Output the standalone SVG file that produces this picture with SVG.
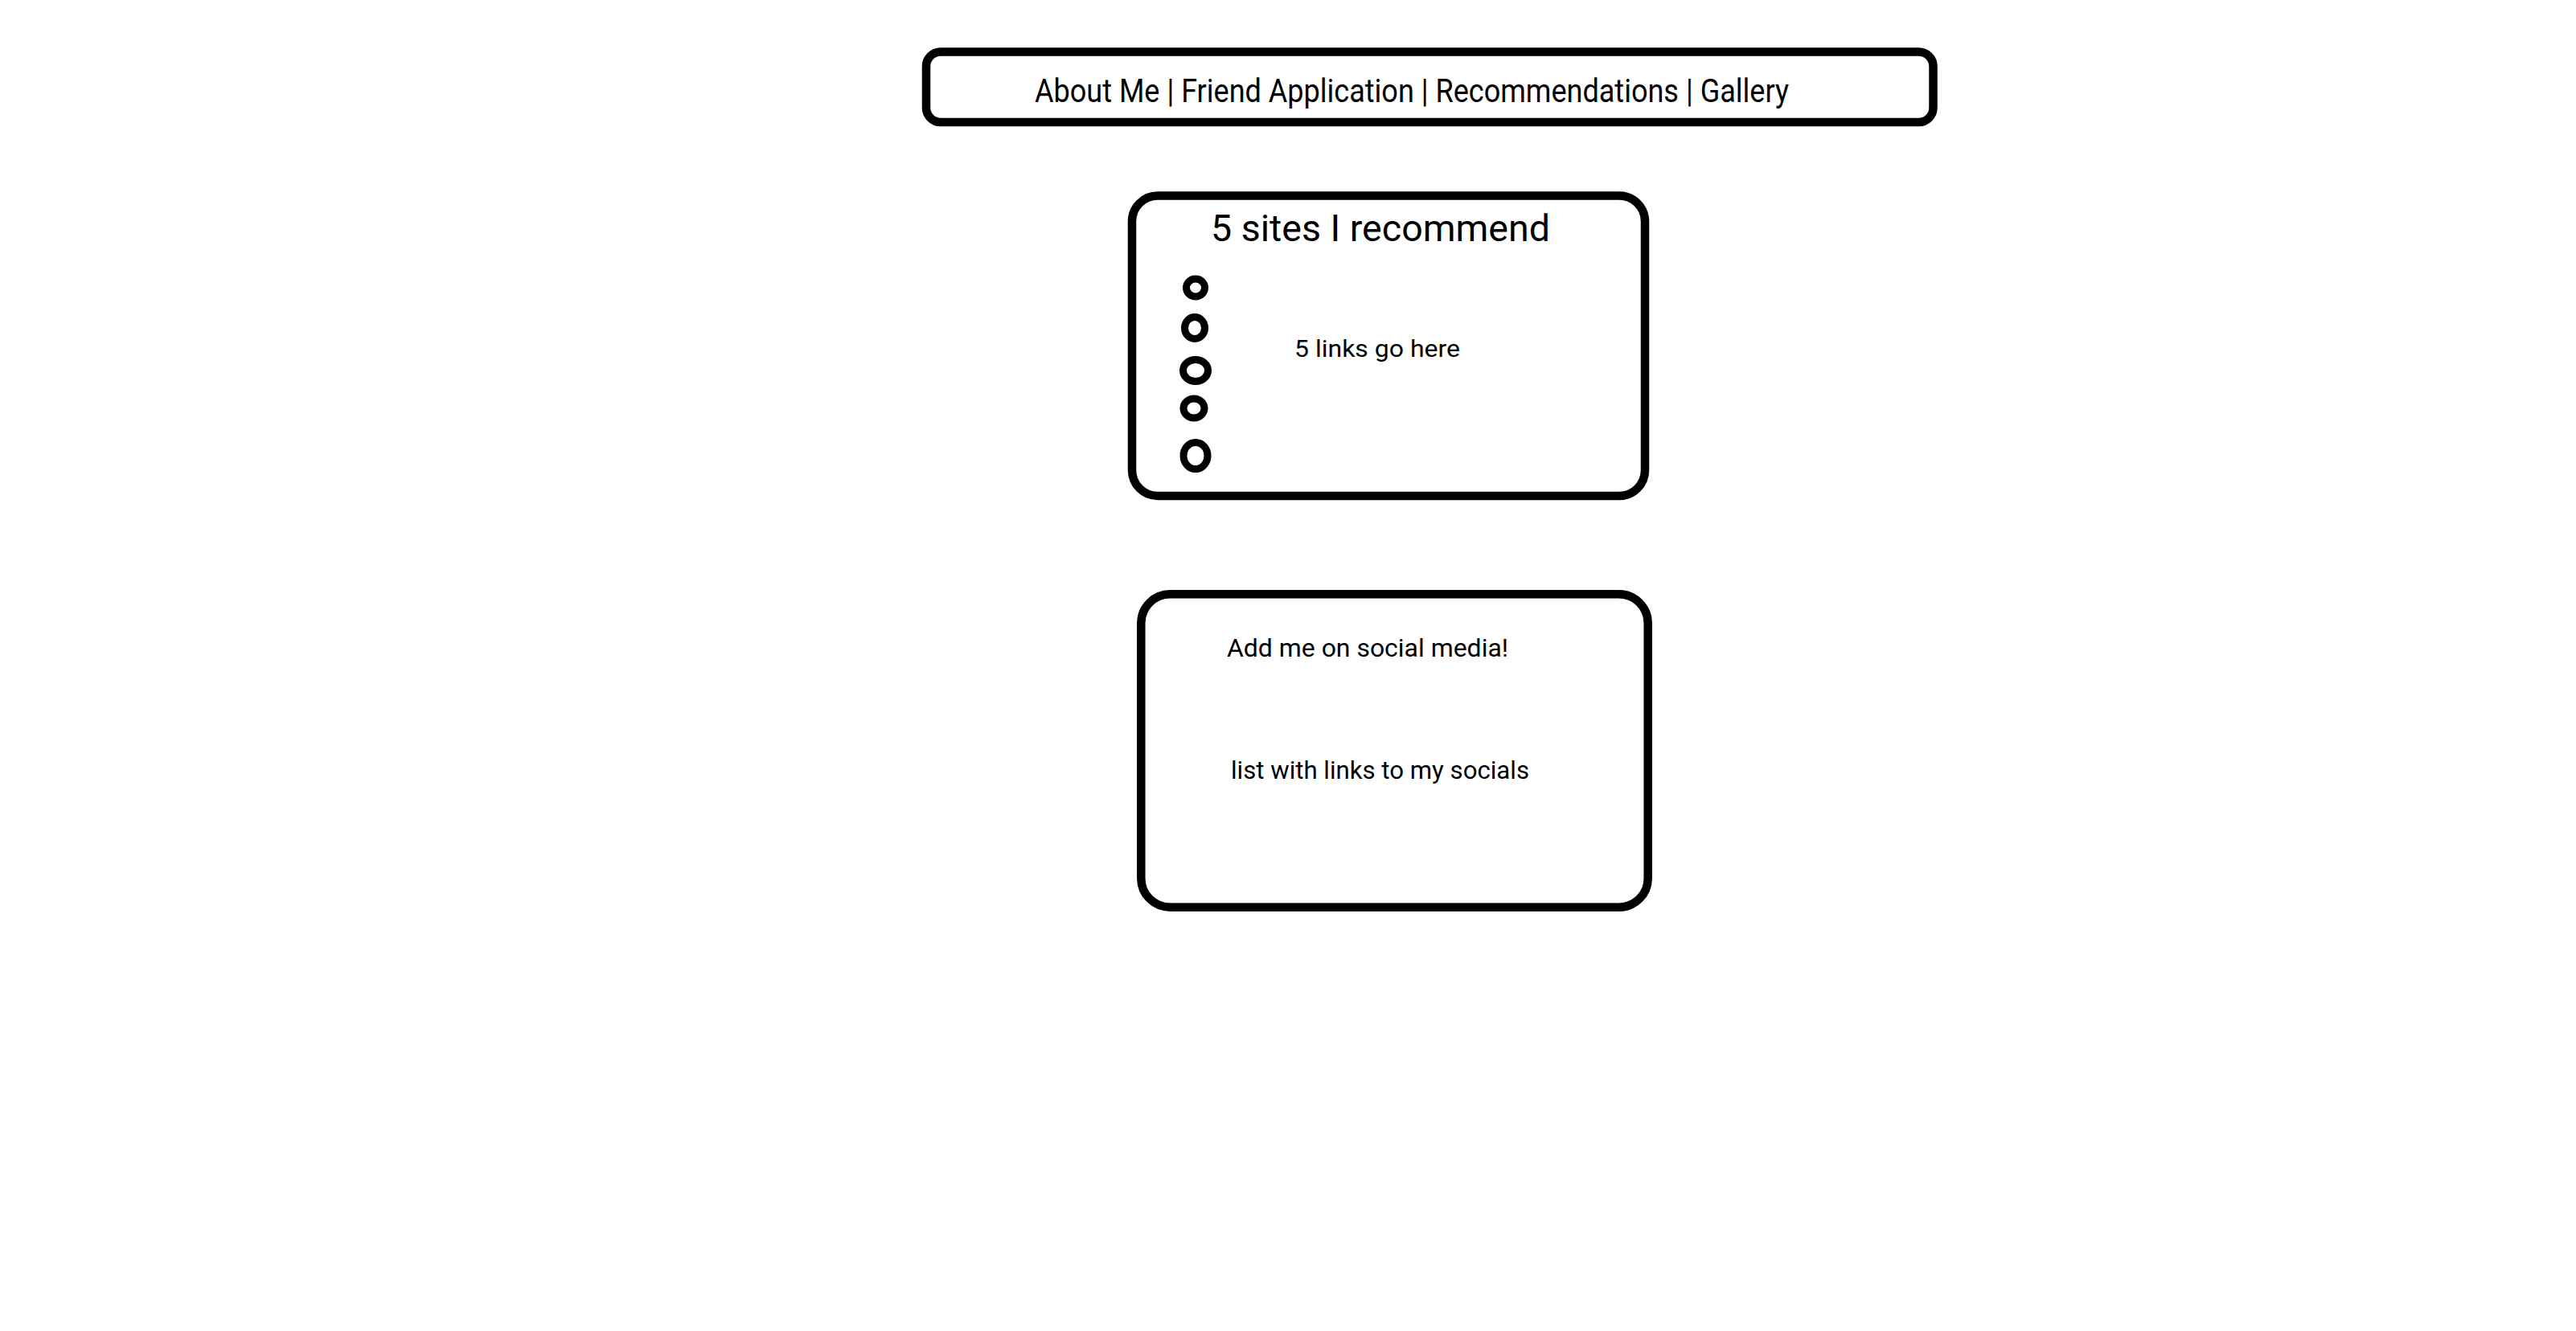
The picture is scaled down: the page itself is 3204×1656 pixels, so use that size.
<svg xmlns="http://www.w3.org/2000/svg" width="3204" height="1656" viewBox="0 0 3204 1656">
<style>
.box{fill:#fff;stroke:#000;stroke-width:10.5}
.ring{fill:none;stroke:#000;stroke-width:9}
text{font-family:Roboto,"Open Sans","Liberation Sans",sans-serif;fill:#000}
</style>
<rect width="3204" height="1656" fill="#fff"/>
<g id="nav">
<rect class="box" x="1152" y="64.5" width="1252.5" height="87.5" rx="18"/>
<text x="1756" y="127" font-size="41" text-anchor="middle" textLength="938" lengthAdjust="spacingAndGlyphs">About Me | Friend Application | Recommendations | Gallery</text>
</g>
<g id="recommend">
<rect class="box" x="1408" y="243.5" width="638" height="373.5" rx="32"/>
<text x="1717" y="300" font-size="46" text-anchor="middle" textLength="422" lengthAdjust="spacingAndGlyphs">5 sites I recommend</text>
<ellipse class="ring" cx="1487" cy="358" rx="11.5" ry="11"/>
<ellipse class="ring" cx="1486" cy="408" rx="12.5" ry="13.5"/>
<ellipse class="ring" cx="1487" cy="461" rx="15.5" ry="13.5"/>
<ellipse class="ring" cx="1485" cy="508" rx="13" ry="12"/>
<ellipse class="ring" cx="1487" cy="567" rx="15" ry="16.5"/>
<text x="1713" y="444" font-size="30" text-anchor="middle" textLength="206" lengthAdjust="spacingAndGlyphs">5 links go here</text>
</g>
<g id="social">
<rect class="box" x="1419.3" y="739.3" width="630.4" height="389.4" rx="36"/>
<text x="1526" y="817" font-size="32" textLength="350" lengthAdjust="spacingAndGlyphs">Add me on social media!</text>
<text x="1531" y="969" font-size="32" textLength="371" lengthAdjust="spacingAndGlyphs">list with links to my socials</text>
</g>
<g id="connectors"/>
</svg>
